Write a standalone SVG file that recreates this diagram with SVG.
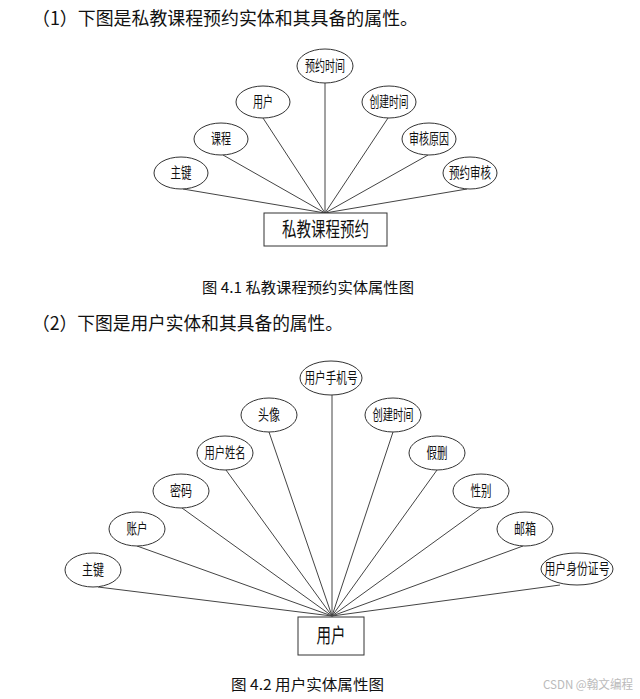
<svg xmlns="http://www.w3.org/2000/svg" width="640" height="699" viewBox="0 0 640 699">
<style>
.bg{fill:#fff}
.attr ellipse{fill:#fff;stroke:#333;stroke-width:1}
.ent rect{fill:#fff;stroke:#333;stroke-width:1}
.lbl{font-family:"Noto Sans CJK SC","Noto Sans",sans-serif;font-size:14.5px;fill:#111;text-anchor:middle}
.elbl{font-family:"Noto Sans CJK SC","Noto Sans",sans-serif;font-size:20px;fill:#111;text-anchor:middle}
.head{font-family:"Noto Sans CJK SC","Noto Sans",sans-serif;font-size:18px;fill:#111}
.cap{font-family:"Noto Sans CJK SC","Noto Sans",sans-serif;font-size:15px;fill:#111}
.wm{font-family:"Noto Sans CJK SC","Noto Sans",sans-serif;font-size:12px;fill:#bbb}
#connectors line{stroke:#444;stroke-width:1}
</style>
<rect class="bg" x="0" y="0" width="640" height="699"/>
<text class="head" x="32" y="25" textLength="386" lengthAdjust="spacingAndGlyphs">（1）下图是私教课程预约实体和其具备的属性。</text>
<text class="cap" x="202" y="293" textLength="212" lengthAdjust="spacingAndGlyphs">图 4.1 私教课程预约实体属性图</text>
<text class="head" x="32" y="330" textLength="311" lengthAdjust="spacingAndGlyphs">（2）下图是用户实体和其具备的属性。</text>
<text class="cap" x="231" y="690" textLength="153" lengthAdjust="spacingAndGlyphs">图 4.2 用户实体属性图</text>
<text class="wm" x="543" y="689" textLength="90" lengthAdjust="spacingAndGlyphs">CSDN @翰文编程</text>

<g id="connectors">
<line x1="325" y1="83" x2="325" y2="213"/>
<line x1="263" y1="118" x2="325" y2="213"/>
<line x1="388" y1="118" x2="325" y2="213"/>
<line x1="223" y1="155" x2="325" y2="213"/>
<line x1="428" y1="155" x2="325" y2="213"/>
<line x1="183" y1="189" x2="325" y2="213"/>
<line x1="467" y1="189" x2="325" y2="213"/>

<line x1="332" y1="395" x2="332" y2="616"/>
<line x1="269" y1="432" x2="332" y2="616"/>
<line x1="226" y1="470" x2="332" y2="616"/>
<line x1="182" y1="508" x2="332" y2="616"/>
<line x1="137" y1="546" x2="332" y2="616"/>
<line x1="98" y1="587" x2="332" y2="616"/>
<line x1="393" y1="432" x2="332" y2="616"/>
<line x1="437" y1="470" x2="332" y2="616"/>
<line x1="481" y1="508" x2="332" y2="616"/>
<line x1="523" y1="546" x2="332" y2="616"/>
<line x1="560" y1="585" x2="332" y2="616"/>
</g>

<g id="e1" class="ent"><rect x="264" y="213" width="123" height="33"/><text class="elbl" x="325.5" y="237" textLength="87" lengthAdjust="spacingAndGlyphs">私教课程预约</text></g>
<g id="a1" class="attr"><ellipse cx="325" cy="66" rx="28" ry="17"/><text class="lbl" x="325" y="71" textLength="40" lengthAdjust="spacingAndGlyphs">预约时间</text></g>
<g id="a2" class="attr"><ellipse cx="263" cy="102" rx="27" ry="16"/><text class="lbl" x="263" y="107" textLength="20" lengthAdjust="spacingAndGlyphs">用户</text></g>
<g id="a3" class="attr"><ellipse cx="389" cy="102" rx="27" ry="16"/><text class="lbl" x="389" y="107" textLength="39" lengthAdjust="spacingAndGlyphs">创建时间</text></g>
<g id="a4" class="attr"><ellipse cx="221" cy="139" rx="27" ry="16"/><text class="lbl" x="221" y="144" textLength="20" lengthAdjust="spacingAndGlyphs">课程</text></g>
<g id="a5" class="attr"><ellipse cx="429" cy="139" rx="27" ry="16"/><text class="lbl" x="429" y="144" textLength="40" lengthAdjust="spacingAndGlyphs">审核原因</text></g>
<g id="a6" class="attr"><ellipse cx="181" cy="173" rx="27" ry="16"/><text class="lbl" x="181" y="178" textLength="21" lengthAdjust="spacingAndGlyphs">主键</text></g>
<g id="a7" class="attr"><ellipse cx="470" cy="173" rx="27" ry="16"/><text class="lbl" x="470" y="178" textLength="42" lengthAdjust="spacingAndGlyphs">预约审核</text></g>

<g id="e2" class="ent"><rect x="298" y="617" width="66" height="38"/><text class="elbl" x="331" y="643" textLength="29" lengthAdjust="spacingAndGlyphs">用户</text></g>
<g id="b1" class="attr"><ellipse cx="331" cy="378" rx="31" ry="17"/><text class="lbl" x="331" y="383" textLength="53" lengthAdjust="spacingAndGlyphs">用户手机号</text></g>
<g id="b2" class="attr"><ellipse cx="269" cy="415" rx="28" ry="17"/><text class="lbl" x="269" y="420" textLength="22" lengthAdjust="spacingAndGlyphs">头像</text></g>
<g id="b3" class="attr"><ellipse cx="393" cy="415" rx="28" ry="17"/><text class="lbl" x="393" y="420" textLength="41" lengthAdjust="spacingAndGlyphs">创建时间</text></g>
<g id="b4" class="attr"><ellipse cx="225" cy="453" rx="28" ry="17"/><text class="lbl" x="225" y="458" textLength="41" lengthAdjust="spacingAndGlyphs">用户姓名</text></g>
<g id="b5" class="attr"><ellipse cx="437" cy="453" rx="28" ry="17"/><text class="lbl" x="437" y="458" textLength="21" lengthAdjust="spacingAndGlyphs">假删</text></g>
<g id="b6" class="attr"><ellipse cx="181" cy="491" rx="28" ry="17"/><text class="lbl" x="181" y="496" textLength="22" lengthAdjust="spacingAndGlyphs">密码</text></g>
<g id="b7" class="attr"><ellipse cx="481" cy="491" rx="28" ry="17"/><text class="lbl" x="481" y="496" textLength="21" lengthAdjust="spacingAndGlyphs">性别</text></g>
<g id="b8" class="attr"><ellipse cx="137" cy="529" rx="28" ry="17"/><text class="lbl" x="137" y="534" textLength="21" lengthAdjust="spacingAndGlyphs">账户</text></g>
<g id="b9" class="attr"><ellipse cx="525" cy="529" rx="28" ry="17"/><text class="lbl" x="525" y="534" textLength="22" lengthAdjust="spacingAndGlyphs">邮箱</text></g>
<g id="b10" class="attr"><ellipse cx="93" cy="570" rx="28" ry="17"/><text class="lbl" x="93" y="575" textLength="22" lengthAdjust="spacingAndGlyphs">主键</text></g>
<g id="b11" class="attr"><ellipse cx="577" cy="569" rx="36" ry="16"/><text class="lbl" x="577" y="574" textLength="65" lengthAdjust="spacingAndGlyphs">用户身份证号</text></g>
</svg>
